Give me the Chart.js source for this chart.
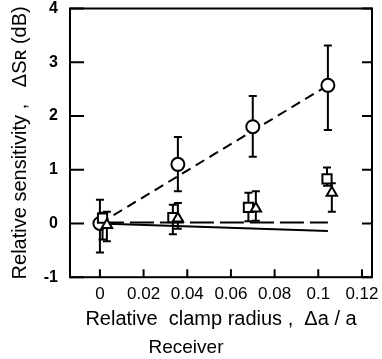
<!DOCTYPE html>
<html>
<head>
<meta charset="utf-8">
<script src="https://cdn.jsdelivr.net/npm/chart.js@4/dist/chart.umd.min.js"></script>
<style>
  html, body { margin: 0; padding: 0; background: #fff; }
  #wrap { width: 382px; height: 359px; }
</style>
</head>
<body>
<div id="wrap"><canvas id="chart"></canvas></div>
<script>
// Axis ticks
const xTicks = [0, 0.02, 0.04, 0.06, 0.08, 0.1, 0.12];
const xTickLabels = ['0', '0.02', '0.04', '0.06', '0.08', '0.1', '0.12'];
const yTicks = [-1, 0, 1, 2, 3, 4];
const yTickLabels = ['-1', '0', '1', '2', '3', '4'];

// Circles
const circleX = [0, 0.0357, 0.070, 0.1044];
const circleY = [0, 1.10, 1.80, 2.57];
const circleLow = [-0.54, 0.60, 1.24, 1.74];
const circleHigh = [0.44, 1.61, 2.37, 3.31];

// Squares
const squareX = [0.0012, 0.0334, 0.068, 0.1040];
const squareY = [0.10, 0.11, 0.30, 0.83];
const squareLow = [-0.30, -0.20, 0.04, 0.70];
const squareHigh = [0.20, 0.35, 0.57, 1.04];

// Triangles
const triangleX = [0.0032, 0.0357, 0.0714, 0.1062];
const triangleY = [-0.03, 0.09, 0.28, 0.57];
const triangleLow = [-0.33, -0.10, 0.05, 0.22];
const triangleHigh = [0.22, 0.38, 0.60, 0.75];

// Fitted lines
const fitX = [0, 0.1044];
const circleFit = [0, 2.57];
const squareFit = [0.02, 0.02];
const triangleFit = [0, -0.14];

const toPoints = (xs, ys) => xs.map((x, i) => ({ x: x, y: ys[i] }));

const FONT = "'Liberation Sans', Arial, sans-serif";

// error bars with small caps
const errorBars = {
    id: 'errorBars',
    beforeDatasetsDraw(chart) {
        const { ctx, scales: { x, y } } = chart;
        ctx.save();
        ctx.strokeStyle = '#000';
        ctx.lineWidth = 2;
        chart.data.datasets.forEach(ds => {
            if (!ds.errLow) return;
            ds.data.forEach((p, i) => {
                const px = x.getPixelForValue(p.x);
                const lo = y.getPixelForValue(ds.errLow[i]);
                const hi = y.getPixelForValue(ds.errHigh[i]);
                ctx.beginPath();
                ctx.moveTo(px, lo); ctx.lineTo(px, hi);
                ctx.moveTo(px - 4, lo); ctx.lineTo(px + 4, lo);
                ctx.moveTo(px - 4, hi); ctx.lineTo(px + 4, hi);
                ctx.stroke();
            });
        });
        ctx.restore();
    }
};

// frame and inward tick marks
const frame = {
    id: 'frame',
    afterDraw(chart) {
        const { ctx, chartArea: a, scales: { x, y } } = chart;
        ctx.save();
        ctx.strokeStyle = '#000';
        ctx.lineWidth = 2;
        ctx.strokeRect(a.left, a.top, a.right - a.left, a.bottom - a.top);
        ctx.beginPath();
        yTicks.forEach(v => {
            const py = y.getPixelForValue(v);
            ctx.moveTo(a.left, py); ctx.lineTo(a.left + 14, py);
            ctx.moveTo(a.right, py); ctx.lineTo(a.right - 10, py);
        });
        xTicks.forEach(v => {
            const px = x.getPixelForValue(v);
            ctx.moveTo(px, a.bottom); ctx.lineTo(px, a.bottom - 8);
        });
        ctx.stroke();
        ctx.restore();
    }
};

const markerStyle = {
    showLine: false,
    borderColor: '#000',
    backgroundColor: '#fff',
    borderWidth: 2,
    order: 0
};

const lineStyle = {
    showLine: true,
    pointRadius: 0,
    borderColor: '#000',
    borderWidth: 2,
    fill: false,
    order: 1
};

new Chart(document.getElementById('chart'), {
    type: 'scatter',
    data: {
        datasets: [
            { ...lineStyle, data: toPoints(fitX, circleFit), borderDash: [10, 6] },
            { ...lineStyle, data: toPoints(fitX, squareFit), borderDash: [24, 6] },
            { ...lineStyle, data: toPoints(fitX, triangleFit) },
            { ...markerStyle, data: toPoints(triangleX, triangleY), pointStyle: 'triangle', pointRadius: 6,
              errLow: triangleLow, errHigh: triangleHigh },
            { ...markerStyle, data: toPoints(squareX, squareY), pointStyle: 'rect', pointRadius: 6.5,
              errLow: squareLow, errHigh: squareHigh },
            { ...markerStyle, data: toPoints(circleX, circleY), pointStyle: 'circle', pointRadius: 6.5,
              errLow: circleLow, errHigh: circleHigh }
        ]
    },
    options: {
        responsive: true,
        maintainAspectRatio: false,
        animation: false,
        layout: { padding: { top: 6, right: 10, left: 0, bottom: 0 } },
        plugins: {
            legend: { display: false },
            tooltip: { enabled: false },
            title: {
                display: true,
                position: 'bottom',
                text: 'Receiver',
                color: '#000',
                font: { family: FONT, size: 19, weight: 'normal' },
                padding: { top: 0, bottom: 0 }
            }
        },
        scales: {
            x: {
                type: 'linear',
                min: -0.0137,
                max: 0.1246,
                afterBuildTicks: scale => { scale.ticks = xTicks.map(v => ({ value: v })); },
                afterFit: scale => { scale.height = 59; scale.paddingLeft = 0; scale.paddingRight = 0; },
                grid: { display: false, drawTicks: false },
                border: { display: false },
                ticks: {
                    color: '#000',
                    padding: 7,
                    maxRotation: 0,
                    autoSkip: false,
                    font: { family: FONT, size: 17 },
                    callback: v => xTickLabels[xTicks.indexOf(v)]
                },
                title: {
                    display: true,
                    text: 'Relative  clamp radius ,  \u0394a / a',
                    color: '#000',
                    font: { family: FONT, size: 20 },
                    padding: { top: 0, bottom: 5 }
                }
            },
            y: {
                type: 'linear',
                min: -1,
                max: 4,
                afterBuildTicks: scale => { scale.ticks = yTicks.map(v => ({ value: v })); },
                afterFit: scale => { scale.width = 70; scale.paddingTop = 0; scale.paddingBottom = 0; },
                grid: { display: false, drawTicks: false },
                border: { display: false },
                ticks: {
                    color: '#000',
                    padding: 12,
                    font: { family: FONT, size: 16, weight: 'bold' },
                    callback: v => yTickLabels[yTicks.indexOf(v)]
                },
                title: {
                    display: true,
                    text: 'Relative sensitivity ,   \u0394S\u0280 (dB)',
                    color: '#000',
                    font: { family: FONT, size: 20 },
                    padding: { top: 8, bottom: 0 }
                }
            }
        }
    },
    plugins: [errorBars, frame]
});
</script>
</body>
</html>
